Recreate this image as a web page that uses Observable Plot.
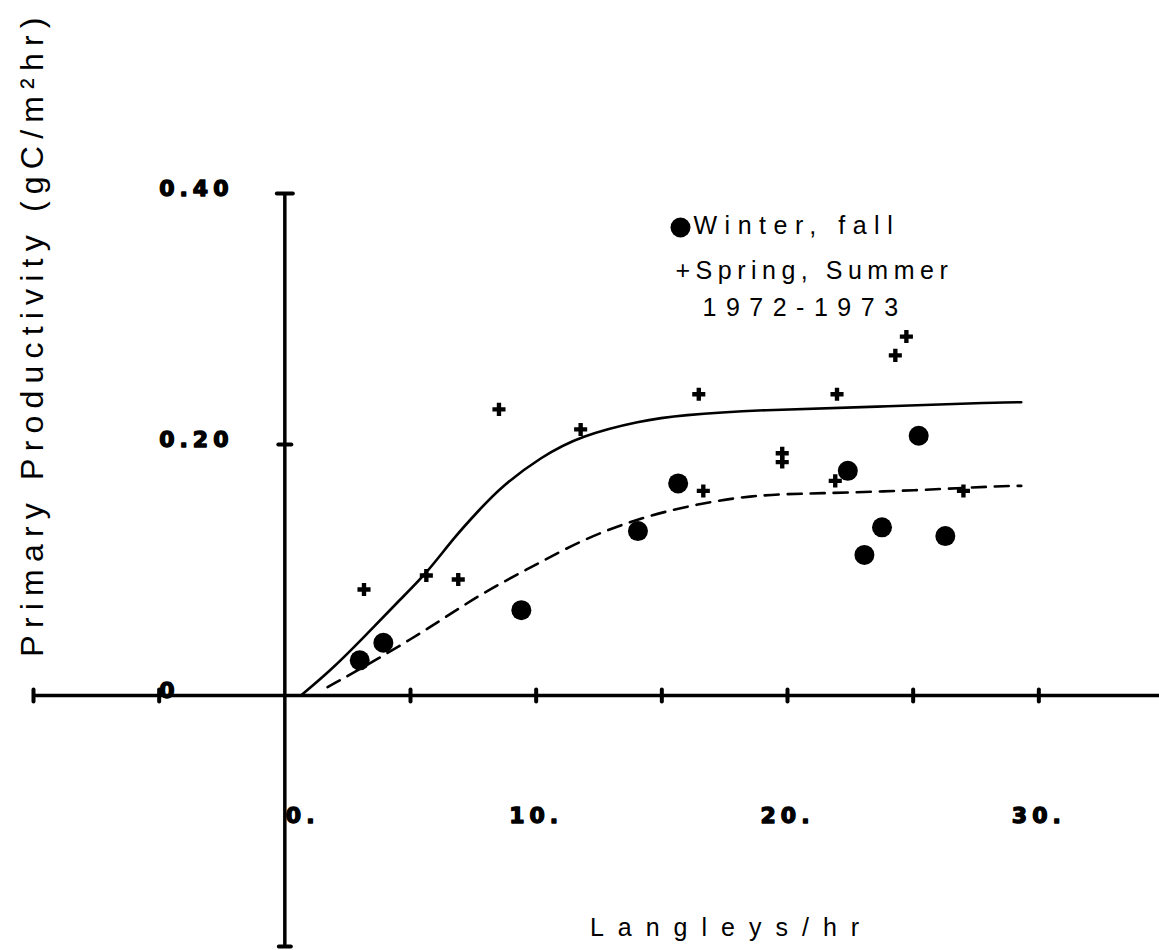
<!DOCTYPE html>
<html>
<head>
<meta charset="utf-8">
<script src="https://cdn.jsdelivr.net/npm/d3@7"></script>
<script src="https://cdn.jsdelivr.net/npm/@observablehq/plot@0.6"></script>
<style>
  html, body { margin: 0; padding: 0; background: #fff; }
  #chart svg { display: block; }
</style>
</head>
<body>
<div id="chart"></div>
<script>
// ---- data ----
const winterLangleys = [2.98, 3.92, 9.41, 14.05, 15.65, 22.4, 25.22, 23.76, 23.06, 26.28];
const winterProd     = [0.028, 0.042, 0.068, 0.131, 0.169, 0.179, 0.207, 0.134, 0.112, 0.127];

const springLangleys = [3.15, 5.63, 6.9, 8.52, 11.77, 16.47, 16.65, 19.79, 19.79, 21.97, 21.9, 24.29, 24.73, 27.0];
const springProd     = [0.0845, 0.0956, 0.0924, 0.228, 0.212, 0.240, 0.163, 0.193, 0.186, 0.240, 0.171, 0.271, 0.286, 0.163];

const solidFitX = [0.64, 1.83, 3.15, 4.48, 5.63, 6.73, 7.79, 8.59, 10.18, 11.77, 14.16, 15.75, 18.93, 23.5, 28.47, 29.3];
const solidFitY = [0.0, 0.02, 0.0465, 0.0744, 0.097, 0.126, 0.149, 0.166, 0.19, 0.207, 0.219, 0.2235, 0.2276, 0.230, 0.2337, 0.2337];

const dashedFitX = [1.7, 3.82, 5.8, 7.79, 9.78, 11.77, 13.76, 15.75, 18.53, 21.18, 25.16, 28.47, 29.3];
const dashedFitY = [0.0066, 0.0305, 0.0544, 0.081, 0.102, 0.1235, 0.139, 0.150, 0.160, 0.161, 0.1634, 0.167, 0.167];

const xTickValues = [-5, 5, 10, 15, 20, 25, 30];
const xLabelValues = [0, 10, 20, 30];
const xLabels = ["0.", "10.", "20.", "30."];
const yTickValues = [0.2];
const yLabelValues = [0.4, 0.2, 0];
const yLabels = ["0.40", "0.20", "0"];

const xTitle = "Langleys/hr";
const yTitle = "Primary Productivity (gC/m²hr)";
const legendLines = ["Winter, fall", "+Spring, Summer", "1972-1973"];

// ---- tables for the library ----
const winter = winterLangleys.map((x, i) => ({x, y: winterProd[i]}));
const spring = springLangleys.map((x, i) => ({x, y: springProd[i]}));
const solid = solidFitX.map((x, i) => ({x, y: solidFitY[i]}));
const dashed = dashedFitX.map((x, i) => ({x, y: dashedFitY[i]}));

const vTick = {draw(ctx, size) { const r = Math.sqrt(size / Math.PI); ctx.moveTo(0, -r); ctx.lineTo(0, r); }};
const hTick = {draw(ctx, size) { const r = Math.sqrt(size / Math.PI); ctx.moveTo(-r, 0); ctx.lineTo(r, 0); }};

const sans = "Liberation Sans, Arial, sans-serif";
const block = "DejaVu Sans, sans-serif";
const blockStyle = {fontSize: 22, fontWeight: "bold", fontFamily: block, stroke: "black", strokeWidth: 1.4, fill: "black"};

const chart = Plot.plot({
  width: 1159,
  height: 950,
  margin: 0,
  x: {domain: [-10, 35], range: [33, 1164], axis: null},
  y: {domain: [-0.2, 0.4], range: [946, 193], axis: null},
  style: {background: "white", color: "black"},
  marks: [
    // axes crossing at the origin
    Plot.ruleY([0], {x1: -10, x2: 35, strokeWidth: 3.5}),
    Plot.ruleX([0], {y1: -0.2, y2: 0.4, strokeWidth: 3.5}),
    // tick marks
    Plot.dot(xTickValues, {x: d => d, y: () => 0, symbol: vTick, r: 6, stroke: "black", fill: "none", strokeWidth: 4, strokeLinecap: "round"}),
    Plot.dot([-10], {x: d => d, y: () => 0, symbol: vTick, r: 6, stroke: "black", fill: "none", strokeWidth: 4, strokeLinecap: "round"}),
    Plot.dot(yTickValues, {x: () => 0, y: d => d, symbol: hTick, r: 6.5, stroke: "black", fill: "none", strokeWidth: 4, strokeLinecap: "round"}),
    Plot.dot([0.4], {x: () => 0, y: d => d, symbol: hTick, r: 8, stroke: "black", fill: "none", strokeWidth: 4, strokeLinecap: "round"}),
    Plot.dot([-0.2], {x: () => 0, y: d => d, symbol: hTick, r: 6, stroke: "black", fill: "none", strokeWidth: 4, strokeLinecap: "round"}),
    // tick labels
    Plot.text(yLabelValues, {x: () => -5, y: d => d, text: (d, i) => yLabels[i], textAnchor: "start", lineAnchor: "bottom", dy: 2, ...blockStyle}),
    Plot.text(xLabelValues.slice(0, 1), {x: d => d, y: () => 0, text: (d, i) => xLabels[i], textAnchor: "start", lineAnchor: "bottom", dy: 127, dx: 1, ...blockStyle}),
    Plot.text(xLabelValues.slice(1), {x: d => d, y: () => 0, text: (d, i) => xLabels[i + 1], textAnchor: "middle", lineAnchor: "bottom", dy: 127, ...blockStyle}),
    // fitted curves
    Plot.line(solid, {x: "x", y: "y", curve: "basis", stroke: "black", strokeWidth: 2.6}),
    Plot.line(dashed, {x: "x", y: "y", curve: "basis", stroke: "black", strokeWidth: 2.6, strokeDasharray: "14,9"}),
    // observations
    Plot.dot(spring, {x: "x", y: "y", symbol: "cross", r: 5.5, fill: "black", stroke: "none"}),
    Plot.dot(winter, {x: "x", y: "y", r: 10, fill: "black", stroke: "none"}),
    // axis titles
    Plot.text([xTitle], {frameAnchor: "top-left", dx: 731, dy: 935, text: d => d, textAnchor: "middle", lineAnchor: "bottom", fontSize: 25, fontFamily: sans}),
    Plot.text([yTitle], {frameAnchor: "top-left", dx: 42, dy: 333, text: d => d, rotate: -90, textAnchor: "middle", lineAnchor: "bottom", fontSize: 32, fontFamily: sans}),
    // legend
    Plot.dot([0], {frameAnchor: "top-left", dx: 680, dy: 227, r: 10, fill: "black", stroke: "none"}),
    Plot.text([legendLines[0]], {frameAnchor: "top-left", dx: 693, dy: 233, text: d => d, textAnchor: "start", lineAnchor: "bottom", fontSize: 25, fontFamily: sans}),
    Plot.text([legendLines[1]], {frameAnchor: "top-left", dx: 675, dy: 278, text: d => d, textAnchor: "start", lineAnchor: "bottom", fontSize: 25, fontFamily: sans}),
    Plot.text([legendLines[2]], {frameAnchor: "top-left", dx: 702, dy: 315, text: d => d, textAnchor: "start", lineAnchor: "bottom", fontSize: 25, fontFamily: sans})
  ]
});

// letter spacing of the plotter lettering
const spacing = new Map([
  [xTitle, "14px"], [yTitle, "7.2px"],
  [legendLines[0], "7.5px"], [legendLines[1], "5.5px"], [legendLines[2], "9.5px"],
  ["0.40", "5px"], ["0.20", "5px"], ["0", "5px"], ["0.", "5px"], ["10.", "5px"], ["20.", "5px"], ["30.", "5px"]
]);
d3.select(chart).selectAll("text").each(function() {
  const s = spacing.get(this.textContent);
  if (s) this.setAttribute("letter-spacing", s);
});

document.getElementById("chart").appendChild(chart);
</script>
</body>
</html>
